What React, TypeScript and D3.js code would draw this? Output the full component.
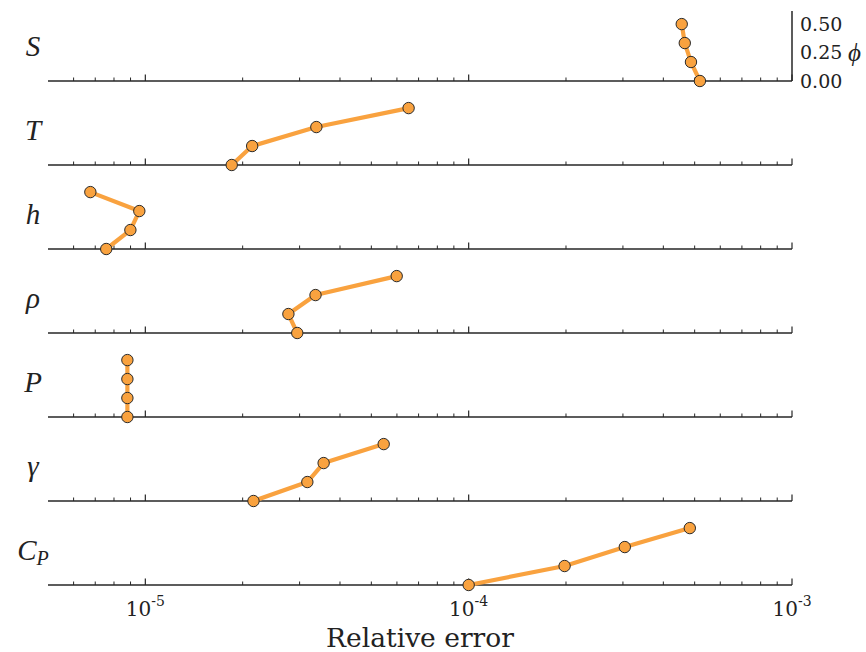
import React from "react";
import * as d3 from "d3";

const variables = ["S", "T", "h", "ρ", "P", "γ", "C_P"];
const phiLevels = [0, 1 / 6, 1 / 3, 0.5];
const errS = [5.19e-4, 4.87e-4, 4.66e-4, 4.56e-4];
const errT = [1.85e-5, 2.14e-5, 3.38e-5, 6.52e-5];
const errH = [7.57e-6, 8.99e-6, 9.58e-6, 6.76e-6];
const errRho = [2.95e-5, 2.77e-5, 3.36e-5, 5.99e-5];
const errP = [8.8e-6, 8.8e-6, 8.8e-6, 8.8e-6];
const errGamma = [2.16e-5, 3.17e-5, 3.56e-5, 5.46e-5];
const errCp = [1.0e-4, 1.98e-4, 3.04e-4, 4.83e-4];
const seriesList = [errS, errT, errH, errRho, errP, errGamma, errCp];
const phiTicks = [0, 0.25, 0.5];
const xDecades = [1e-5, 1e-4, 1e-3];
const xDomain: [number, number] = [5e-6, 1e-3];
const phiDomain: [number, number] = [0, 0.615];

const W = 866;
const H = 652;
const left = 48;
const right = 792;
const firstBase = 81;
const step = 84;
const panelH = 70;
const orange = "#f9a23f";
const axisColor = "#262626";
const serif = "'DejaVu Serif', serif";
const mathSerif = "'Liberation Serif', 'DejaVu Serif', serif";

function decadeExp(v: number) {
  return Math.round(Math.log10(v));
}

export default function App() {
  const x = d3.scaleLog().domain(xDomain).range([left, right]);
  const minorTicks: number[] = [];
  for (let e = -6; e <= -4; e++) {
    for (let m = 2; m <= 9; m++) {
      const v = m * Math.pow(10, e);
      if (v > xDomain[0] && v < xDomain[1]) minorTicks.push(v);
    }
  }

  return (
    <svg
      width={W}
      height={H}
      style={{ position: "absolute", left: 0, top: 0, background: "#fff" }}
      fontFamily={serif}
    >
      {seriesList.map((vals, i) => {
        const base = firstBase + i * step;
        const y = d3.scaleLinear().domain(phiDomain).range([base, base - panelH]);
        const pts = vals.map((v, k) => [x(v), y(phiLevels[k])] as [number, number]);
        const line = d3.line()(pts) || "";
        const name = variables[i];
        return (
          <g key={name}>
            <line x1={left} x2={right} y1={base} y2={base} stroke={axisColor} strokeWidth={1.5} />
            {minorTicks.map((t) => (
              <line key={t} x1={x(t)} x2={x(t)} y1={base} y2={base - 3.5} stroke={axisColor} strokeWidth={1} />
            ))}
            {xDecades.map((t) => (
              <line key={t} x1={x(t)} x2={x(t)} y1={base} y2={base - 6.5} stroke={axisColor} strokeWidth={1.2} />
            ))}
            {i === 0 && (
              <g>
                <line x1={right} x2={right} y1={base - panelH} y2={base} stroke={axisColor} strokeWidth={1.5} />
                {phiTicks.map((t) => (
                  <text key={t} x={800} y={y(t) + 6.5} fontSize={19} fill="#222">
                    {t.toFixed(2)}
                  </text>
                ))}
                <text x={848} y={y(0.25) + 8} fontSize={25} fontStyle="italic" fontFamily={mathSerif} fill="#222">
                  ϕ
                </text>
              </g>
            )}
            <text
              x={33}
              y={base - panelH / 2 + 10}
              fontSize={29}
              fontStyle="italic"
              fontFamily={mathSerif}
              textAnchor="middle"
              fill="#222"
            >
              {name.includes("_") ? (
                <>
                  {name.split("_")[0]}
                  <tspan fontSize={20} dy={5}>
                    {name.split("_")[1]}
                  </tspan>
                </>
              ) : (
                name
              )}
            </text>
            <path d={line} fill="none" stroke={orange} strokeWidth={4.2} strokeLinejoin="round" />
            {pts.map((p, k) => (
              <circle key={k} cx={p[0]} cy={p[1]} r={5.7} fill={orange} stroke="#2a2a2a" strokeWidth={1} />
            ))}
          </g>
        );
      })}
      {xDecades.map((t) => (
        <text key={t} x={x(t)} y={616} fontSize={20} textAnchor="middle" fill="#222">
          10
          <tspan fontSize={14} dy={-10}>
            {String(decadeExp(t))}
          </tspan>
        </text>
      ))}
      <text x={420} y={647} fontSize={26.5} textAnchor="middle" fill="#222">
        Relative error
      </text>
    </svg>
  );
}
